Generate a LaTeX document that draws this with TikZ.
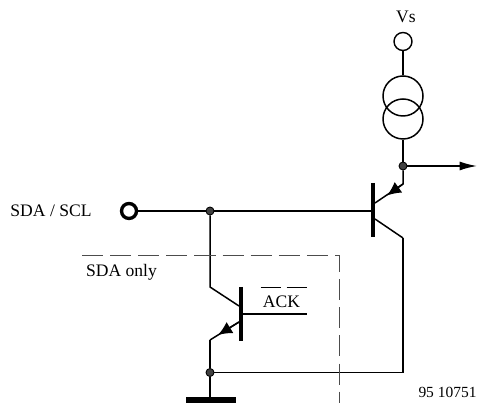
\documentclass[tikz,border=0pt]{standalone}
\usepackage{fontspec}
\setmainfont{Liberation Serif}
\usetikzlibrary{arrows.meta}

\begin{document}
\begin{tikzpicture}
[
wire/.style={draw=black, line width=0.85pt},
pinball/.style={circle, draw=black, fill=white, line width=0.8pt, inner sep=0pt, minimum size=3.6mm},
thickball/.style={circle, draw=black, fill=white, line width=1.9pt, inner sep=0pt, minimum size=3mm},
sourceball/.style={circle, draw=black, line width=0.85pt, inner sep=0pt, minimum size=8mm},
dotball/.style={circle, draw=black, fill=black!75, line width=0.5pt, inner sep=0pt, minimum size=1.6mm},
textbox/.style={inner sep=0pt, font=\fontsize{10pt}{12pt}\selectfont},
bar/.style={draw=black, line width=2.4pt},
tip/.style={-{Latex[length=2.8mm,width=2.6mm]}, line width=0.85pt},
frame/.style={draw=black!70, line width=0.5pt, dash pattern=on 12pt off 4pt}
]
\useasboundingbox (0,0) rectangle (9.54,8.06);
%supply
\node at (8.12,7.73) [textbox] (vs) {Vs};
\node at (8.06,7.23) [pinball] (vspin) {};
\node at (8.06,5.68) [sourceball] (srcb) {};
\node at (8.06,6.14) [sourceball] (srca) {};
\node at (8.06,4.74) [dotball] (outdot) {};
\coordinate (outend) at (9.54,4.74);
\draw[wire] (vspin) -- (srca);
\draw[wire] (srcb) -- (outdot);
\draw[-{Latex[length=3.5mm,width=1.8mm]}, line width=0.85pt] (outdot) -- (outend);

%upper transistor
\coordinate (t1top) at (7.46,4.40);
\coordinate (t1bot) at (7.46,3.32);
\coordinate (t1base) at (7.46,3.84);
\coordinate (t1e) at (7.5,4.0);
\coordinate (t1ek) at (8.06,4.38);
\coordinate (t1etip) at (7.74,4.15);
\coordinate (t1c) at (7.5,3.68);
\coordinate (t1ck) at (8.06,3.30);
\draw[bar] (t1top) -- (t1bot);
\draw[wire] (outdot) -- (t1ek) -- (t1e);
\draw[tip] (t1ek) -- (t1etip);
\draw[wire] (t1c) -- (t1ck);

%input
\node at (1.02,3.84) [textbox] (sda) {SDA / SCL};
\node at (2.58,3.84) [thickball] (inpin) {};
\node at (4.2,3.84) [dotball] (indot) {};
\draw[wire] (inpin) -- (indot) -- (t1base);

%lower transistor
\coordinate (t2top) at (4.82,2.32);
\coordinate (t2bot) at (4.82,1.24);
\coordinate (t2base) at (4.82,1.78);
\coordinate (t2ck) at (4.2,2.32);
\coordinate (t2c) at (4.78,1.94);
\coordinate (t2e) at (4.78,1.62);
\coordinate (t2ek) at (4.2,1.26);
\coordinate (t2etip) at (4.36,1.36);
\coordinate (ackend) at (6.14,1.78);
\draw[bar] (t2top) -- (t2bot);
\draw[wire] (indot) -- (t2ck) -- (t2c);
\draw[wire] (t2e) -- (t2ek);
\draw[tip] (t2e) -- (t2etip);
\draw[wire] (t2base) -- (ackend);
\node at (5.63,2.02) [textbox] (ack) {ACK};
\coordinate (bara) at (5.21,2.31);
\coordinate (barb) at (5.61,2.31);
\coordinate (barc) at (5.73,2.31);
\coordinate (bard) at (6.13,2.31);
\draw[line width=1.1pt] (bara) -- (barb);
\draw[line width=1.1pt] (barc) -- (bard);

%ground
\node at (4.2,0.61) [dotball] (gnddot) {};
\coordinate (gnd) at (4.2,0.06);
\coordinate (gnda) at (3.72,0.06);
\coordinate (gndb) at (4.72,0.06);
\draw[wire] (t2ek) -- (gnddot) -- (gnd);
\draw[line width=3.4pt] (gnda) -- (gndb);
\coordinate (corner) at (8.06,0.61);
\draw[wire] (gnddot) -- (corner) -- (t1ck);

%sda only box
\coordinate (boxa) at (1.64,2.96);
\coordinate (boxb) at (6.78,2.96);
\coordinate (boxc) at (6.78,0);
\draw[frame] (boxa) -- (boxb) -- (boxc);
\node at (2.43,2.62) [textbox] (only) {SDA only};

\node at (8.95,0.22) [textbox, font=\fontsize{8.8pt}{10pt}\selectfont] (num) {95 10751};
\end{tikzpicture}
\end{document}
